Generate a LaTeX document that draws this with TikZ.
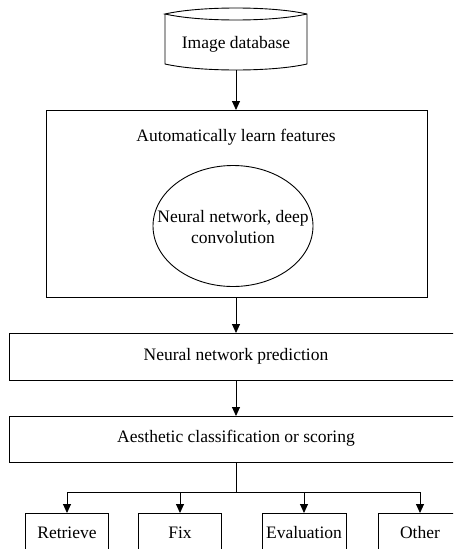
\documentclass[tikz,border=0pt]{standalone}
\usepackage{fontspec}
\setmainfont{Liberation Serif}
\usetikzlibrary{arrows.meta,shapes.geometric}
\begin{document}
\begin{tikzpicture}[x=1pt,y=-1pt,
  line width=0.9pt,
  txt/.style={font=\fontsize{17.5}{20.5}\selectfont, inner sep=0pt},
  flowbox/.style={draw, line width=0.9pt},
  arr/.style={-{Triangle[length=9pt,width=8pt]}, line width=0.9pt}]
\useasboundingbox (0,0) rectangle (453,549);
\begin{scope}
\clip (0,0) rectangle (453,549);
% database
\draw (165,14) -- (165,64) .. controls (200,72) and (272,72) .. (307,64) -- (307,14)
      .. controls (272,6) and (200,6) .. (165,14)
      .. controls (200,22) and (272,22) .. (307,14);
\node[txt] (db) at (236,44) {Image database};
\coordinate (dbbot) at (236,70);
% big box
\node[flowbox, minimum width=381pt, minimum height=187pt, anchor=north west] (learn) at (46,110) {};
\node[txt] (learnlbl) at (236,137) {Automatically learn features};
\node[draw, ellipse, line width=0.9pt, minimum width=160pt, minimum height=121pt, inner sep=0pt] (nn) at (233,226) {};
\node[txt, align=center] (nnlbl) at (233,227) {Neural network, deep\\convolution};
% prediction
\node[flowbox, minimum width=454pt, minimum height=47pt, anchor=north west] (pred) at (9,333) {};
\node[txt] (predlbl) at (236,356) {Neural network prediction};
% aesthetic
\node[flowbox, minimum width=454pt, minimum height=46pt, anchor=north west] (aes) at (9,416) {};
\node[txt] (aeslbl) at (236,438) {Aesthetic classification or scoring};
% bottom boxes
\node[flowbox, minimum width=83pt, minimum height=50pt, anchor=north west] (ret) at (25,513) {};
\node[flowbox, minimum width=83pt, minimum height=50pt, anchor=north west] (fix) at (138,513) {};
\node[flowbox, minimum width=84pt, minimum height=50pt, anchor=north west] (eva) at (262,513) {};
\node[flowbox, minimum width=84pt, minimum height=50pt, anchor=north west] (oth) at (378,513) {};
\node[txt] at (67,533) {Retrieve};
\node[txt] at (180,533) {Fix};
\node[txt] at (304,533) {Evaluation};
\node[txt] at (420,533) {Other};
% connectors
\draw[arr] (dbbot) -- (dbbot |- learn.north);
\draw[arr] (236,297) -- (236,333);
\draw[arr] (236,380) -- (236,416);
\coordinate (split) at (236,492);
\draw (236,462) -- (split);
\draw (67,492) -- (420,492);
\draw[arr] (67,492) -- (67,513);
\draw[arr] (180,492) -- (180,513);
\draw[arr] (304,492) -- (304,513);
\draw[arr] (420,492) -- (420,513);
\end{scope}
\end{tikzpicture}
\end{document}
